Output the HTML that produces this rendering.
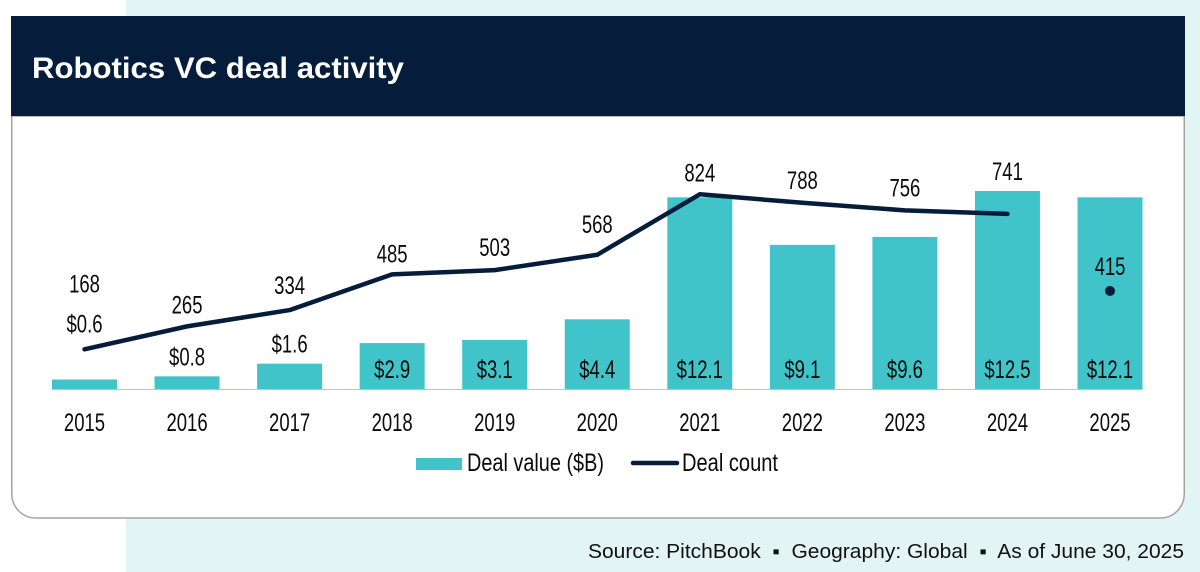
<!DOCTYPE html>
<html lang="en">
<head>
<meta charset="utf-8">
<title>Robotics VC deal activity</title>
<style>
html,body{margin:0;padding:0;background:#fff;}
svg{display:block;font-family:"Liberation Sans",sans-serif;}
</style>
</head>
<body>
<svg id="chart" width="1200" height="572" viewBox="0 0 1200 572" xmlns="http://www.w3.org/2000/svg">
  <rect x="0" y="0" width="1200" height="572" fill="#ffffff"/>
  <rect x="126" y="0" width="1074" height="572" fill="#e2f4f4"/>
  <path d="M11.75 116 H1184.25 V494 A24 24 0 0 1 1160.25 518 H35.75 A24 24 0 0 1 11.75 494 Z" fill="#ffffff" stroke="#a3a3a3" stroke-width="1.5"/>
  <rect x="11" y="16" width="1174" height="100" fill="#051d3a"/>
  <text x="32" y="78" font-size="30" font-weight="700" fill="#ffffff" textLength="372" lengthAdjust="spacingAndGlyphs">Robotics VC deal activity</text>
  <g id="plot"></g>
  <rect x="416" y="458" width="46" height="12" fill="#40c4ca"/>
  <text x="467" y="471" font-size="25" fill="#0a0a0a" textLength="137" lengthAdjust="spacingAndGlyphs">Deal value ($B)</text>
  <line x1="633" y1="463" x2="677" y2="463" stroke="#051d3a" stroke-width="4.5" stroke-linecap="round"/>
  <text x="682" y="471" font-size="25" fill="#0a0a0a" textLength="96" lengthAdjust="spacingAndGlyphs">Deal count</text>
  <text x="588" y="558" font-size="20" fill="#111111" textLength="596" lengthAdjust="spacingAndGlyphs" xml:space="preserve">Source: PitchBook  ▪  Geography: Global  ▪  As of June 30, 2025</text>
</svg>
<script>
const years = ['2015','2016','2017','2018','2019','2020','2021','2022','2023','2024','2025'];
const dealValue = [0.6,0.8,1.6,2.9,3.1,4.4,12.1,9.1,9.6,12.5,12.1];
const dealCount = [168,265,334,485,503,568,824,788,756,741,415];

// Layout only: label clearance per category, in px above each mark.
const countLabelGap = [57,13,16,12,14,22,13,14,14,34,16];
const valueLabelGap = [47,11,11];

const NS = 'http://www.w3.org/2000/svg';
const plot = document.getElementById('plot');
const baseY = 389;
const firstX = 84.5;
const stepX = 102.55;
const barW = 65;
const NARROW = 0.74;

function xPos(i){ return firstX + i * stepX; }
function valueY(v){ return baseY - v * 15.84; }
function countY(c){ return baseY - c * 0.2363; }

function addLabel(str, x, y){
  const t = document.createElementNS(NS, 'text');
  t.setAttribute('transform', 'translate(' + x + ',' + y + ') scale(' + NARROW + ',1)');
  t.setAttribute('text-anchor', 'middle');
  t.setAttribute('font-size', '25');
  t.setAttribute('fill', '#0a0a0a');
  t.textContent = str;
  plot.appendChild(t);
  return t;
}

years.forEach(function(year, i){
  const top = valueY(dealValue[i]);
  const bar = document.createElementNS(NS, 'rect');
  bar.setAttribute('x', xPos(i) - barW / 2);
  bar.setAttribute('y', top);
  bar.setAttribute('width', barW);
  bar.setAttribute('height', baseY - top);
  bar.setAttribute('fill', '#40c4ca');
  
  
  plot.appendChild(bar);
});

const axis = document.createElementNS(NS, 'line');
axis.setAttribute('x1', xPos(0) - barW / 2);
axis.setAttribute('x2', xPos(years.length - 1) + barW / 2);
axis.setAttribute('y1', baseY + 0.5);
axis.setAttribute('y2', baseY + 0.5);
axis.setAttribute('stroke', '#c4c0bc');
axis.setAttribute('stroke-width', '1');


plot.appendChild(axis);

// The 2025 count is a partial year: it is shown as a lone dot, not joined to the line.
const linePoints = dealCount.slice(0, dealCount.length - 1).map(function(c, i){
  return xPos(i) + ',' + countY(c);
}).join(' ');
const countLine = document.createElementNS(NS, 'polyline');
countLine.setAttribute('points', linePoints);
countLine.setAttribute('fill', 'none');
countLine.setAttribute('stroke', '#051d3a');
countLine.setAttribute('stroke-width', '4.5');
countLine.setAttribute('stroke-linecap', 'round');
countLine.setAttribute('stroke-linejoin', 'round');


plot.appendChild(countLine);

const lastIdx = dealCount.length - 1;
const dot = document.createElementNS(NS, 'circle');
dot.setAttribute('cx', xPos(lastIdx));
dot.setAttribute('cy', countY(dealCount[lastIdx]));
dot.setAttribute('r', '5');
dot.setAttribute('fill', '#051d3a');


plot.appendChild(dot);

years.forEach(function(year, i){
  const yearLabel = addLabel(year, xPos(i), 431);
  
  

  const v = dealValue[i];
  const vy = i < valueLabelGap.length ? valueY(v) - valueLabelGap[i] : baseY - 11;
  const valueLabel = addLabel('$' + v.toFixed(1), xPos(i), vy);
  
  

  const countLabel = addLabel(String(dealCount[i]), xPos(i), countY(dealCount[i]) - countLabelGap[i]);
  
  
});
</script>
</body>
</html>
